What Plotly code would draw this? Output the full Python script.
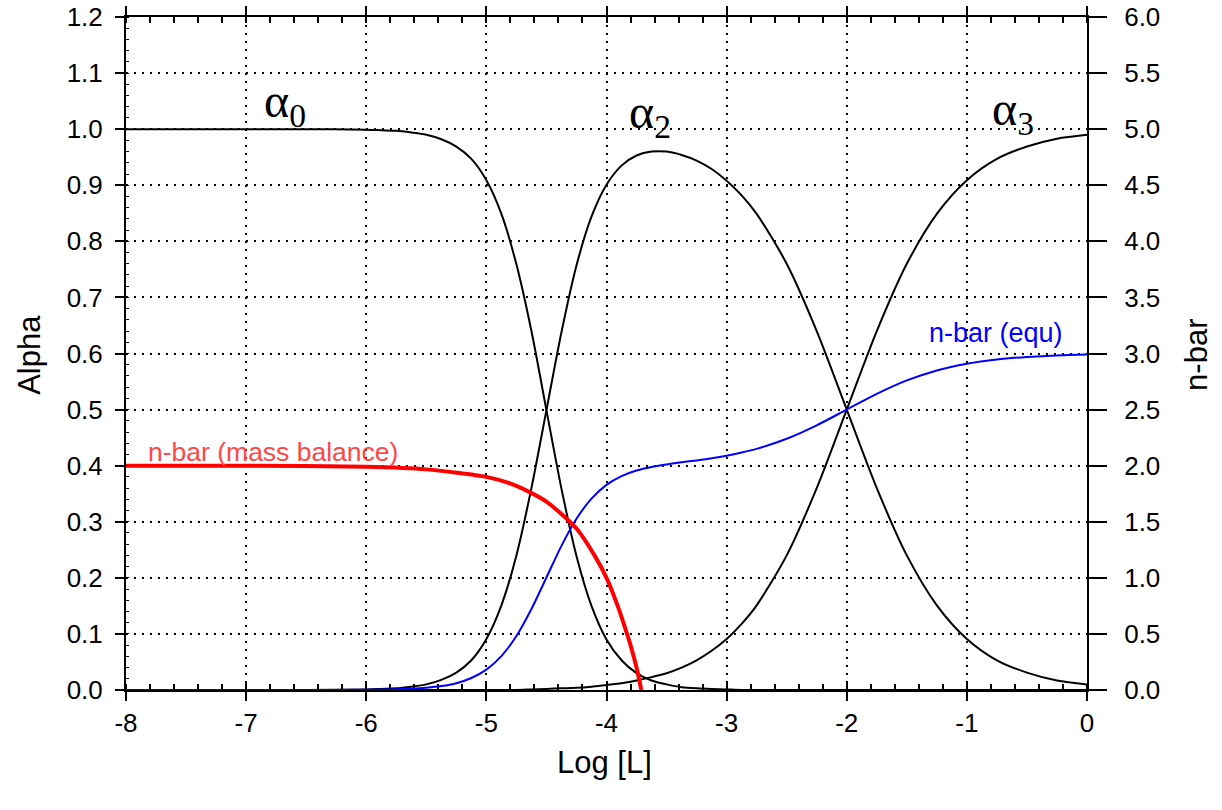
import plotly.graph_objects as go

# ---- data ----
log_L = [-8, -7.5, -7, -6.5, -6, -5.875, -5.75, -5.625, -5.5, -5.375, -5.25, -5.125, -5,
         -4.875, -4.75, -4.625, -4.5, -4.375, -4.25, -4.125, -4, -3.875, -3.75, -3.625,
         -3.5, -3.375, -3.25, -3.125, -3, -2.875, -2.75, -2.5, -2.25, -2, -1.75, -1.5,
         -1.25, -1, -0.75, -0.5, -0.25, 0]

alpha0 = [1.0, 1.0, 1.0, 1.0, 0.999, 0.998, 0.997, 0.994, 0.990, 0.982, 0.969, 0.947, 0.909,
          0.849, 0.759, 0.640, 0.499, 0.359, 0.239, 0.150, 0.090, 0.053, 0.030, 0.017,
          0.010, 0.005, 0.003, 0.002, 0.001, 0.0, 0.0, 0.0, 0.0, 0.0, 0.0, 0.0,
          0.0, 0.0, 0.0, 0.0, 0.0, 0.0]

alpha2 = [0.0, 0.0, 0.0, 0.0, 0.001, 0.002, 0.003, 0.006, 0.010, 0.018, 0.031, 0.053, 0.091,
          0.151, 0.240, 0.360, 0.499, 0.638, 0.757, 0.844, 0.901, 0.935, 0.953, 0.960,
          0.960, 0.954, 0.944, 0.929, 0.908, 0.882, 0.849, 0.760, 0.640, 0.500, 0.360, 0.240,
          0.151, 0.091, 0.053, 0.031, 0.017, 0.010]

alpha3 = [0.0, 0.0, 0.0, 0.0, 0.0, 0.0, 0.0, 0.0, 0.0, 0.0, 0.0, 0.0, 0.0,
          0.0, 0.0, 0.001, 0.002, 0.003, 0.004, 0.006, 0.009, 0.012, 0.017, 0.023,
          0.030, 0.040, 0.053, 0.070, 0.091, 0.118, 0.151, 0.240, 0.360, 0.500, 0.640, 0.760,
          0.849, 0.909, 0.947, 0.969, 0.983, 0.990]

nbar_equ = [0.0, 0.0, 0.0, 0.0, 0.002, 0.004, 0.006, 0.011, 0.020, 0.035, 0.061, 0.107, 0.182,
            0.302, 0.481, 0.722, 1.003, 1.285, 1.526, 1.706, 1.829, 1.907, 1.957, 1.989,
            2.011, 2.030, 2.047, 2.066, 2.089, 2.117, 2.150, 2.240, 2.360, 2.500, 2.640, 2.760,
            2.849, 2.909, 2.947, 2.969, 2.983, 2.990]

mb_logL = [-8, -7, -6, -5.5, -5, -4.75, -4.5, -4.25, -4.1, -4, -3.9, -3.85, -3.8, -3.75, -3.71]
nbar_mass = [2.0, 1.999, 1.99, 1.967, 1.90, 1.82, 1.68, 1.44, 1.20, 1.00, 0.73, 0.57, 0.40, 0.20, 0.0]

x_ticks = [-8, -7, -6, -5, -4, -3, -2, -1, 0]

FONT = "Liberation Sans, Arial, sans-serif"
SERIF = "Liberation Serif, Times New Roman, serif"

fig = go.Figure()

for ys in (alpha0, alpha2, alpha3):
    fig.add_trace(go.Scatter(x=log_L, y=ys, mode="lines",
                             line=dict(color="black", width=2, shape="spline", smoothing=0.8),
                             cliponaxis=False, showlegend=False, hoverinfo="skip"))

fig.add_trace(go.Scatter(x=log_L, y=nbar_equ, mode="lines", yaxis="y2",
                         line=dict(color="rgb(0,0,255)", width=2, shape="spline", smoothing=0.8),
                         cliponaxis=False, showlegend=False))

fig.add_trace(go.Scatter(x=mb_logL, y=nbar_mass, mode="lines", yaxis="y2",
                         line=dict(color="rgb(255,0,0)", width=4, shape="spline", smoothing=0.6),
                         cliponaxis=False, showlegend=False))

grid = dict(showgrid=True, gridcolor="black", gridwidth=1.5, griddash="2px,6px")

fig.update_layout(
    width=1222, height=810,
    margin=dict(l=126, r=135, t=17, b=120, autoexpand=False),
    paper_bgcolor="white", plot_bgcolor="white",
    font=dict(family=FONT, size=26, color="black"),
    xaxis=dict(range=[-8, 0], tickvals=x_ticks, ticktext=[str(v) for v in x_ticks],
               showline=True, linecolor="black", linewidth=2, mirror="ticks",
               ticks="outside", ticklen=9, tickwidth=1.5, tickcolor="black",
               minor=dict(ticks="inside", dtick=0.2, ticklen=6, tickwidth=1.5, tickcolor="black",
                          showgrid=False),
               zeroline=False, layer="below traces", ticklabelstandoff=0,
               automargin=False, **grid),
    xaxis3=dict(range=[-8, 0], overlaying="x", tickvals=x_ticks, showticklabels=False,
                ticks="inside", ticklen=7, tickwidth=1.5, tickcolor="black",
                showgrid=False, zeroline=False, showline=False, layer="below traces",
                automargin=False),
    yaxis=dict(range=[0, 1.2], dtick=0.1, tickformat=".1f",
               showline=True, linecolor="black", linewidth=2,
               ticks="outside", ticklen=9, tickwidth=1.5, tickcolor="black",
               minor=dict(ticks="inside", dtick=0.02, ticklen=3, tickwidth=1, tickcolor="black",
                          showgrid=False),
               zeroline=False, ticklabelstandoff=7, automargin=False, **grid),
    yaxis2=dict(range=[0, 6], dtick=0.5, tickformat=".1f", overlaying="y", side="right",
                showline=True, linecolor="black", linewidth=2,
                ticks="outside", ticklen=18, tickwidth=1.5, tickcolor="black",
                showgrid=False, zeroline=False, ticklabelstandoff=12, automargin=False),
    showlegend=False,
)

# invisible trace to activate xaxis3 (crossing major ticks)
fig.add_trace(go.Scatter(x=[-8], y=[0], xaxis="x3", mode="markers",
                         marker=dict(opacity=0), showlegend=False, hoverinfo="skip"))

annotations = [
    dict(text="α<sub>0</sub>", x=-6.68, y=1.045),
    dict(text="α<sub>2</sub>", x=-3.64, y=1.025),
    dict(text="α<sub>3</sub>", x=-0.62, y=1.03),
]
for a in annotations:
    fig.add_annotation(xref="x", yref="y", showarrow=False,
                       xanchor="center", yanchor="middle",
                       font=dict(family=SERIF, size=48), **a)

fig.add_annotation(text="n-bar (mass balance)", xref="x", yref="y", x=-7.835, y=0.424,
                   xanchor="left", yanchor="middle", showarrow=False,
                   font=dict(family=FONT, size=26.5, color="rgb(255,70,70)"))
fig.add_annotation(text="n-bar (equ)", xref="x", yref="y", x=-0.18, y=0.636,
                   xanchor="right", yanchor="middle", showarrow=False,
                   font=dict(family=FONT, size=27, color="rgb(0,0,255)"))

# axis titles
fig.add_annotation(text="Alpha", xref="paper", yref="paper", x=-0.0999, y=0.498,
                   xanchor="center", yanchor="middle",
                   textangle=-90, showarrow=False, font=dict(family=FONT, size=31))
fig.add_annotation(text="n-bar", xref="paper", yref="paper", x=1.1145, y=0.498,
                   xanchor="center", yanchor="middle",
                   textangle=-90, showarrow=False, font=dict(family=FONT, size=31))
fig.add_annotation(text="Log [L]", xref="paper", yref="paper", x=0.4984, y=-0.107,
                   xanchor="center", yanchor="middle",
                   showarrow=False, font=dict(family=FONT, size=31))

fig.write_html("out.html", config={"displayModeBar": False},
               post_script="document.body.style.margin='0';")
